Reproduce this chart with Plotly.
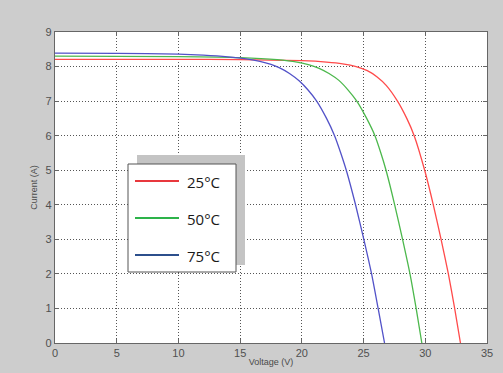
import plotly.graph_objects as go

# Voltage (V) / Current (A) for each temperature
v_25 = [0, 10, 15, 20, 22.0, 23.3, 24.4, 25.3, 26.1, 26.85, 27.75, 28.5, 29.1, 29.95, 30.65, 31.28, 31.87, 32.38, 32.85]
i_25 = [8.21, 8.21, 8.2, 8.17, 8.13, 8.08, 8.0, 7.88, 7.7, 7.45, 7.0, 6.5, 6.0, 5.0, 4.0, 3.0, 2.0, 1.0, 0.0]

v_50 = [0, 10, 15, 18, 19.6, 20.6, 21.4, 22.2, 23.0, 23.75, 24.45, 25.25, 25.92, 26.4, 26.82, 27.52, 28.16, 28.76, 29.26, 29.72]
i_50 = [8.3, 8.29, 8.26, 8.2, 8.13, 8.05, 7.95, 7.8, 7.6, 7.32, 7.0, 6.5, 6.0, 5.5, 5.0, 4.0, 3.0, 2.0, 1.0, 0.0]

v_75 = [0, 5, 10, 12, 14, 15.5, 16.6, 17.5, 18.2, 19.0, 19.8, 20.5, 21.2, 22.0, 22.65, 23.15, 23.6, 24.35, 25.02, 25.65, 26.18, 26.7]
i_75 = [8.39, 8.38, 8.36, 8.33, 8.28, 8.22, 8.15, 8.06, 7.96, 7.8, 7.58, 7.32, 7.0, 6.5, 6.0, 5.5, 5.0, 4.0, 3.0, 2.0, 1.0, 0.0]

legend_labels = ["25°C", "50°C", "75°C"]
curve_colors = ["#ff4a4a", "#4cb84c", "#5252c8"]
legend_colors = ["#e8383d", "#2db34a", "#2c4f8c"]

fig = go.Figure()
for vx, iy, c, name in zip([v_25, v_50, v_75], [i_25, i_50, i_75], curve_colors, legend_labels):
    fig.add_trace(go.Scatter(x=vx, y=iy, mode="lines", name=name,
                             line=dict(color=c, width=1.3, shape="spline", smoothing=0.6),
                             showlegend=False))

axis_common = dict(showgrid=True, gridcolor="#555555", griddash="1px,2px", gridwidth=1,
                   showline=True, linecolor="#666666", linewidth=1.2, mirror="ticks",
                   ticks="inside", ticklen=4, tickcolor="#666666", automargin=False,
                   zeroline=False, tickfont=dict(family="Arial, Liberation Sans", size=11, color="#505050"))

fig.update_xaxes(range=[0, 35], tickvals=[0, 5, 10, 15, 20, 25, 30, 35],
                 title=dict(text="Voltage (V)", font=dict(family="Arial, Liberation Sans", size=9, color="#4a4a4a"),
                            standoff=0),
                 **axis_common)
fig.update_yaxes(range=[0, 9], tickvals=list(range(10)),
                 title=dict(text="Current (A)", font=dict(family="Arial, Liberation Sans", size=9, color="#4a4a4a"),
                            standoff=6),
                 **axis_common)

# manual legend box with shadow (paper coords converted from pixels)
W, H = 503, 373
L, R, T, B = 55, 487, 32, 343
pw, ph = R - L, B - T

def px(x):
    return (x - L) / pw

def py(y):
    return (B - y) / ph

fig.add_shape(type="rect", xref="paper", yref="paper",
              x0=px(137), x1=px(245), y0=py(265), y1=py(155),
              fillcolor="#c4c4c4", line=dict(width=0), layer="above")
fig.add_shape(type="rect", xref="paper", yref="paper",
              x0=px(128), x1=px(236), y0=py(272), y1=py(164),
              fillcolor="white", line=dict(color="#555555", width=1), layer="above")
for k, (lab, col) in enumerate(zip(legend_labels, legend_colors)):
    yy = 181 + 37 * k
    fig.add_shape(type="line", xref="paper", yref="paper",
                  x0=px(135), x1=px(179), y0=py(yy), y1=py(yy),
                  line=dict(color=col, width=2.2), layer="above")
    fig.add_annotation(xref="paper", yref="paper", x=px(185), y=py(yy + 1),
                       text=lab, showarrow=False, xanchor="left", yanchor="middle",
                       font=dict(family="Open Sans, Liberation Sans", size=15, color="#1a1a1a"))

fig.update_layout(width=W, height=H,
                  margin=dict(l=L, r=W - R, t=T, b=H - B),
                  paper_bgcolor="#cdcdcd", plot_bgcolor="white",
                  showlegend=False)

fig.write_html("out.html")
